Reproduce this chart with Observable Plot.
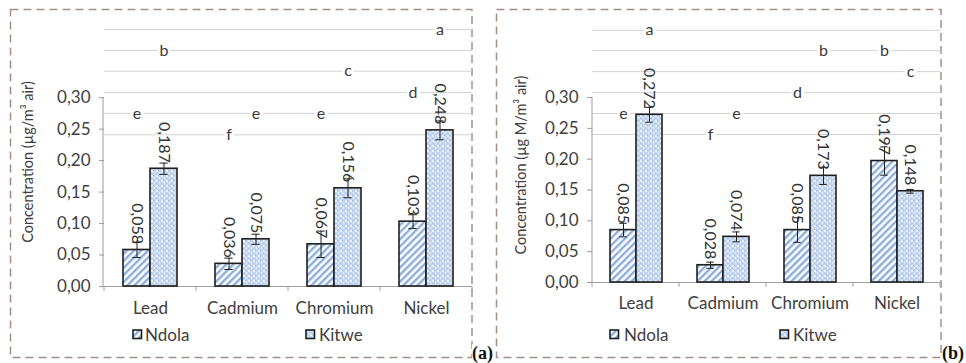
<!DOCTYPE html>
<html>
<head>
<meta charset="utf-8">
<script src="https://cdn.jsdelivr.net/npm/d3@7"></script>
<script src="https://cdn.jsdelivr.net/npm/@observablehq/plot@0.6"></script>
<style>
  html, body { margin: 0; padding: 0; background: #fff; }
  body { width: 966px; height: 363px; position: relative; overflow: hidden; font-family: Lato, "Open Sans", sans-serif; }
  .abs { position: absolute; }
  .ylab { position: absolute; transform: translate(-50%, -50%) rotate(-90deg); white-space: nowrap; font-size: 14.5px; color: #404040; }
  .leg { position: absolute; font-size: 17px; color: #404040; line-height: 17px; }
  .tag { position: absolute; font-family: "Liberation Serif", "DejaVu Serif", serif; font-weight: bold; font-size: 18px; color: #111; background: #fff; line-height: 18px; }
</style>
</head>
<body>
<svg class="abs" style="left:0;top:0" width="966" height="363">
  <defs>
    <pattern id="ndolaPat" patternUnits="userSpaceOnUse" width="5" height="5" patternTransform="rotate(45)">
      <rect width="5" height="5" fill="#ffffff"></rect>
      <rect x="0" y="0" width="2.4" height="5" fill="#8eaddf"></rect>
    </pattern>
    <pattern id="kitwePat" patternUnits="userSpaceOnUse" width="5" height="5">
      <rect width="5" height="5" fill="#c3d5ef"></rect>
      <circle cx="1" cy="1" r="0.9" fill="#ffffff"></circle>
      <circle cx="3.5" cy="3" r="0.8" fill="#f2f6fc"></circle>
      <circle cx="2.5" cy="0.5" r="0.6" fill="#9fb8e2"></circle>
      <circle cx="0.5" cy="3.5" r="0.6" fill="#a9c0e6"></circle>
    </pattern>
  </defs>
  <rect x="10.5" y="9.5" width="461.5" height="348" fill="none" stroke="#a58f8a" stroke-width="1.5" stroke-dasharray="8,5"></rect>
  <rect x="496.5" y="9.5" width="444.5" height="348" fill="none" stroke="#a58f8a" stroke-width="1.5" stroke-dasharray="8,5"></rect>
</svg>
<div id="panelA" class="abs" style="left:0;top:0"></div>
<div id="panelB" class="abs" style="left:480px;top:0"></div>
<script>
// ---- data ----
const categories = ["Lead", "Cadmium", "Chromium", "Nickel"];
const sites = ["Ndola", "Kitwe"];
const yTicks = [0, 0.05, 0.10, 0.15, 0.20, 0.25, 0.30];
const letterNames = ["a", "b", "c", "d", "e", "f"];

// panel (a)
const ndolaA = [0.058, 0.036, 0.067, 0.103];
const kitweA = [0.187, 0.075, 0.156, 0.248];
const ndolaErrA = [0.012, 0.009, 0.021, 0.011];
const kitweErrA = [0.009, 0.008, 0.015, 0.015];
const ndolaLettersA = ["e", "f", "e", "d"];
const kitweLettersA = ["b", "e", "c", "a"];
const letterLevelsA = [0.408, 0.375, 0.342, 0.308, 0.275, 0.241];
const yLabelA = "Concentration (µg/m³ air)";

// panel (b)
const ndolaB = [0.085, 0.028, 0.085, 0.197];
const kitweB = [0.272, 0.074, 0.173, 0.148];
const ndolaErrB = [0.011, 0.005, 0.020, 0.023];
const kitweErrB = [0.012, 0.008, 0.014, 0.003];
const ndolaLettersB = ["e", "f", "d", "b"];
const kitweLettersB = ["a", "e", "b", "c"];
const letterLevelsB = [0.409, 0.376, 0.342, 0.308, 0.274, 0.240];
const yLabelB = "Concentration (µg M/m³ air)";

const fmt3 = v => v.toFixed(3).replace(".", ",");
const fmt2 = v => v.toFixed(2).replace(".", ",");

function buildRows(nd, kw, ndE, kwE, ndL, kwL, levels) {
  const lvl = l => levels[letterNames.indexOf(l)];
  return categories.flatMap((c, i) => [
    {cat: c, site: sites[0], value: nd[i], err: ndE[i], letter: ndL[i], level: lvl(ndL[i])},
    {cat: c, site: sites[1], value: kw[i], err: kwE[i], letter: kwL[i], level: lvl(kwL[i])}
  ]);
}

function panel(el, cfg) {
  const rows = buildRows(cfg.nd, cfg.kw, cfg.ndE, cfg.kwE, cfg.ndL, cfg.kwL, cfg.levels);
  const plot = Plot.plot({
    width: cfg.width,
    height: cfg.height,
    marginLeft: cfg.ml,
    marginRight: cfg.mr,
    marginTop: cfg.mt,
    marginBottom: cfg.mb,
    style: {fontFamily: "Lato, sans-serif", fontSize: "17px", color: "#404040", background: "transparent", overflow: "visible"},
    fx: {domain: categories, axis: "bottom", label: null, tickSize: 0, tickPadding: cfg.tp, paddingInner: 0, paddingOuter: 0},
    x: {domain: sites, axis: null, paddingInner: 0, paddingOuter: 0.67},
    y: {domain: [0, 0.44], ticks: yTicks, tickFormat: fmt2, tickSize: 5, tickPadding: 9, label: null},
    marks: [
      Plot.ruleY(cfg.levels, {stroke: "#d2d2d2", strokeWidth: 1}),
      Plot.ruleY([0], {stroke: "#a0a0a0", strokeWidth: 1}),
      Plot.text(rows, {fx: "cat", x: "site", y: "level", text: "letter", fontSize: 16, fill: "#3a3a3a", stroke: "white", strokeWidth: 6}),
      Plot.barY(rows.filter(d => d.site === sites[0]), {fx: "cat", x: "site", y: "value", fill: "url(#ndolaPat)", stroke: "#1e1e1e", strokeWidth: 1.6}),
      Plot.barY(rows.filter(d => d.site === sites[1]), {fx: "cat", x: "site", y: "value", fill: "url(#kitwePat)", stroke: "#1e1e1e", strokeWidth: 1.6}),
      Plot.ruleX(rows, {fx: "cat", x: "site", y1: d => d.value - d.err, y2: d => d.value + d.err, stroke: "#222", strokeWidth: 1}),
      Plot.tickY(rows, {fx: "cat", x: "site", y: d => d.value + d.err, stroke: "#222", strokeWidth: 1, insetLeft: 9.3, insetRight: 9.3}),
      Plot.tickY(rows, {fx: "cat", x: "site", y: d => d.value - d.err, stroke: "#222", strokeWidth: 1, insetLeft: 9.3, insetRight: 9.3}),
      Plot.text(rows, {fx: "cat", x: "site", y: "value", text: d => fmt3(d.value), rotate: 90, textAnchor: "end", lineAnchor: "middle", dy: -6, fontSize: 16, fill: "#333"})
    ]
  });
  el.appendChild(plot);
  const svg = d3.select(plot);
  svg.selectAll('g[aria-label="y-axis tick"] path').attr("stroke", "#9a9a9a");
  try {
    const ys = plot.scale("y");
    const y0 = ys.apply(0), y30 = ys.apply(yTicks[yTicks.length - 1]);
    svg.append("line").attr("x1", cfg.ml).attr("x2", cfg.ml).attr("y1", y0).attr("y2", y30)
      .attr("stroke", "#9a9a9a").attr("stroke-width", 1);
    const fxs = plot.scale("fx");
    const bw = fxs.bandwidth;
    const edges = categories.map(c => fxs.apply(c)).concat([fxs.apply(categories[categories.length - 1]) + bw]);
    edges.forEach(x => svg.append("line").attr("x1", x).attr("x2", x).attr("y1", y0).attr("y2", y0 + 5)
      .attr("stroke", "#a0a0a0").attr("stroke-width", 1));
  } catch (e) { console.error(e); }
}

panel(document.getElementById("panelA"), {
  nd: ndolaA, kw: kitweA, ndE: ndolaErrA, kwE: kitweErrA, ndL: ndolaLettersA, kwL: kitweLettersA, levels: letterLevelsA,
  width: 480, height: 320, ml: 103, mr: 8, mt: 9, mb: 34, tp: 15
});
panel(document.getElementById("panelB"), {
  nd: ndolaB, kw: kitweB, ndE: ndolaErrB, kwE: kitweErrB, ndL: ndolaLettersB, kwL: kitweLettersB, levels: letterLevelsB,
  width: 486, height: 320, ml: 112, mr: 26, mt: 10.7, mb: 38, tp: 14
});

// axis titles, legends, panel tags
function addDiv(cls, style, text) {
  const d = document.createElement("div");
  d.className = cls; d.setAttribute("style", style);
  if (text != null) d.textContent = text;
  document.body.appendChild(d);
  return d;
}
addDiv("ylab", "left:27px;top:162px", yLabelA);
addDiv("ylab", "left:520px;top:165px", yLabelB);

function swatch(x, y, pat) {
  const ns = "http://www.w3.org/2000/svg";
  const s = document.createElementNS(ns, "svg");
  s.setAttribute("class", "abs");
  s.setAttribute("style", `left:${x}px;top:${y}px`);
  s.setAttribute("width", 11); s.setAttribute("height", 11);
  const r = document.createElementNS(ns, "rect");
  r.setAttribute("x", 1); r.setAttribute("y", 1); r.setAttribute("width", 8.5); r.setAttribute("height", 8.5);
  r.setAttribute("fill", `url(#${pat})`); r.setAttribute("stroke", "#1e1e1e"); r.setAttribute("stroke-width", 1.6);
  s.appendChild(r);
  document.body.appendChild(s);
}
const legendPos = [
  {sx: 132, tx: 145, site: sites[0], pat: "ndolaPat"},
  {sx: 305, tx: 319, site: sites[1], pat: "kitwePat"},
  {sx: 609, tx: 624, site: sites[0], pat: "ndolaPat"},
  {sx: 779, tx: 793, site: sites[1], pat: "kitwePat"}
];
legendPos.forEach(p => {
  swatch(p.sx, 329, p.pat);
  addDiv("leg", `left:${p.tx}px;top:326px`, p.site);
});
addDiv("tag", "left:472px;top:344px", "(a)");
addDiv("tag", "left:942px;top:344px", "(b)");
</script>
</body>
</html>
